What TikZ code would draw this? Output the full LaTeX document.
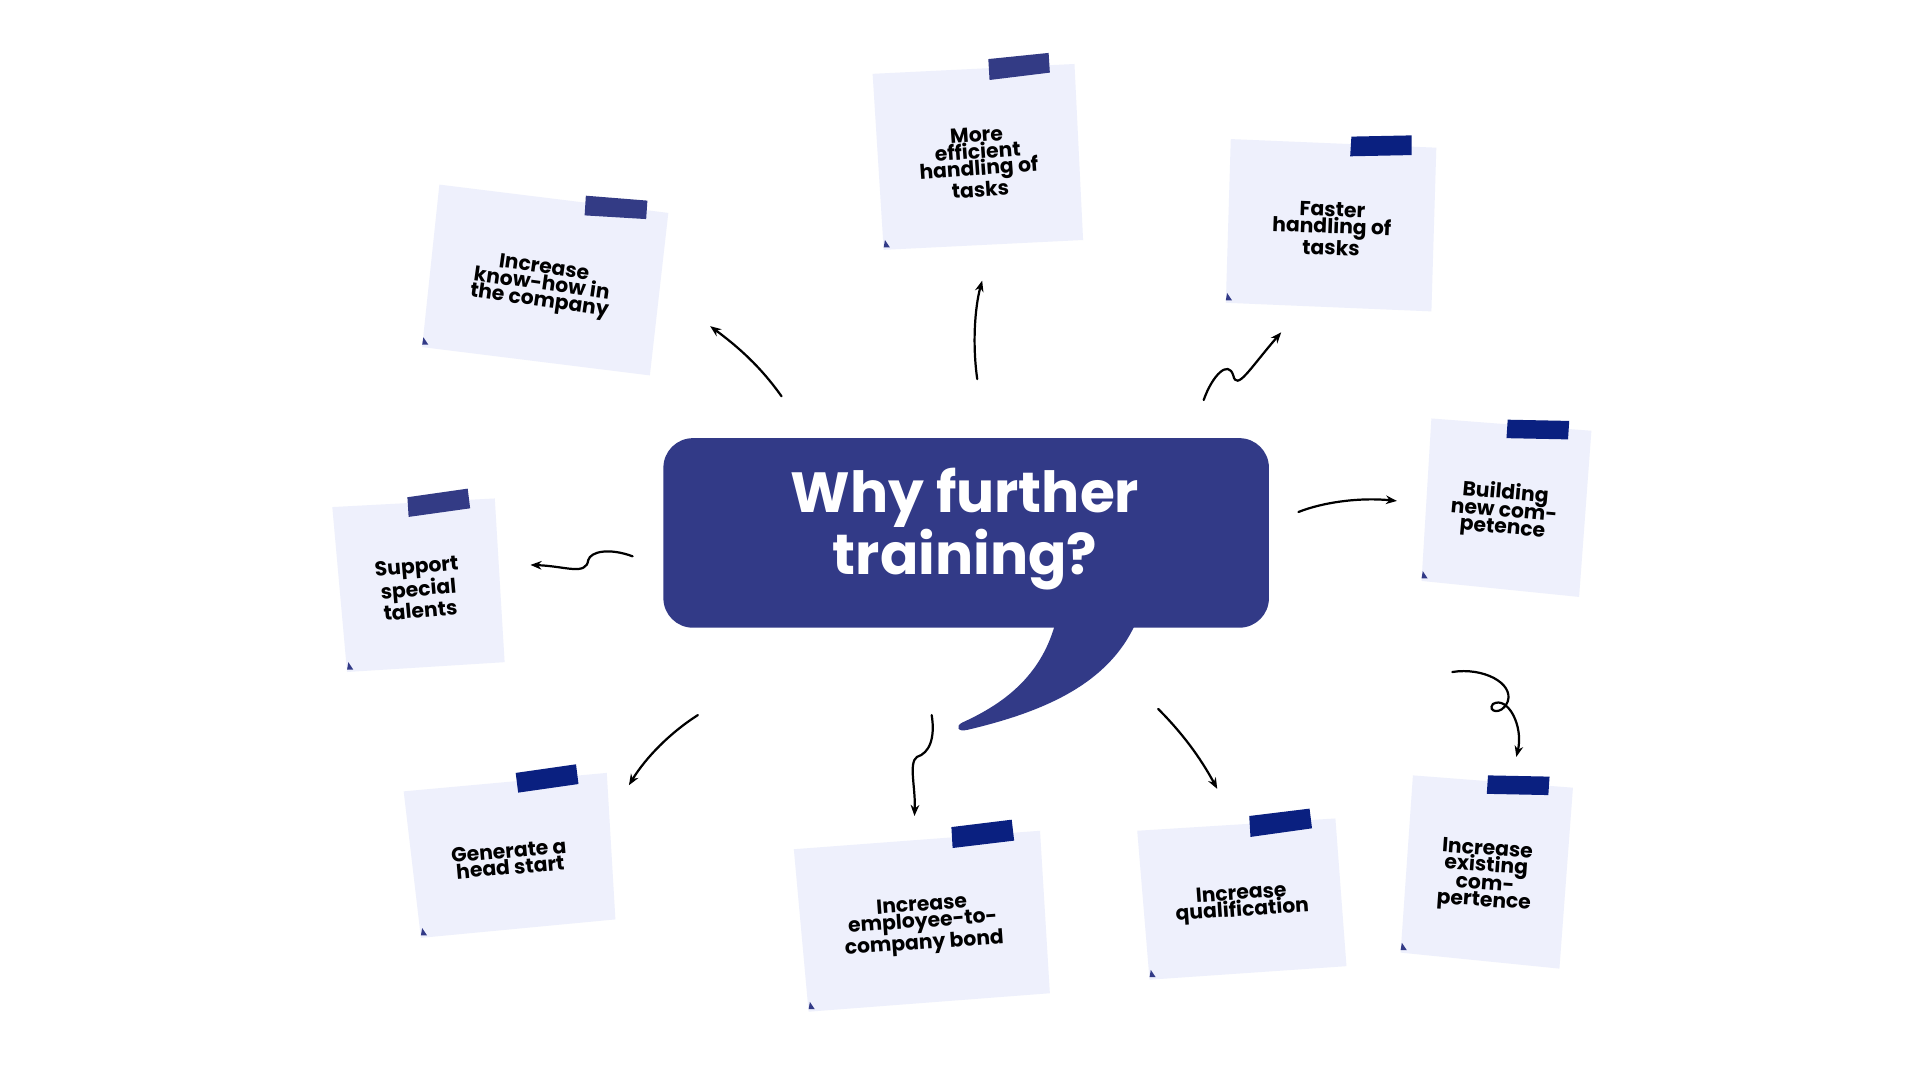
\documentclass[tikz,border=0pt]{standalone}
\usepackage{fontspec}
\setmainfont{Poppins}
\usetikzlibrary{arrows.meta}
\definecolor{note}{HTML}{EEF0FC}
\definecolor{bub}{HTML}{323A87}
\definecolor{tapeA}{HTML}{333B85}
\definecolor{tapeB}{HTML}{0A2080}
\tikzset{
 notetext/.style={font=\fontsize{16.5}{13.5}\selectfont\bfseries, align=center, text=black, inner sep=0pt},
 arr/.style={draw=black, line width=1.8pt, line cap=round, -{Stealth[length=9pt,width=7pt]}},
}
\newcommand{\note}[4]{%
  \fill[note] #1 -- #2 -- #3 -- #4 -- cycle;
  \fill[bub] #4 ++(0,-2) -- ++(5,0) -- ++(-4,-6) -- cycle;
}
\begin{document}
\begin{tikzpicture}[x=1pt,y=-1pt]
\useasboundingbox (0,0) rectangle (1560,877);
\fill[white] (0,0) rectangle (1560,877);
% notes
\note{(357,150)}{(543,173)}{(528,305)}{(343,282)}
\fill[tapeA] (476,159) -- (526,163) -- (525,178) -- (475,175) -- cycle;
\node[notetext, rotate=-8] (n1) at (440,232) {Increase\\know-how in\\the company};

\note{(709,60)}{(873,52)}{(880,195)}{(718,203)}
\fill[tapeA] (803,48) -- (852,43) -- (853,59) -- (804,65) -- cycle;
\node[notetext, rotate=4] (n2) at (795,132) {More\\efficient\\handling of\\tasks};

\note{(1000,113)}{(1167,120)}{(1163,253)}{(996,246)}
\fill[tapeB] (1098,111) -- (1147,110) -- (1147,126) -- (1097,127) -- cycle;
\node[notetext, rotate=-2] (n3) at (1082,186) {Faster\\handling of\\tasks};

\note{(1163,340)}{(1293,350)}{(1283,485)}{(1155,472)}
\fill[tapeB] (1225,341) -- (1275,342) -- (1274,357) -- (1224,356) -- cycle;
\node[notetext, rotate=-5] (n4) at (1222,415) {Building\\new com-\\petence};

\note{(270,412)}{(402,405)}{(410,538)}{(282,546)}
\fill[tapeA] (331,404) -- (380,397) -- (382,413) -- (332,420) -- cycle;
\node[notetext, rotate=5] (n5) at (340,478) {Support\\special\\talents};

\note{(328,643)}{(493,628)}{(500,747)}{(342,762)}
\fill[tapeB] (419,628) -- (468,621) -- (470,637) -- (421,644) -- cycle;
\node[notetext, rotate=5] (n6) at (414,698) {Generate a\\head start};

\note{(645,690)}{(845,675)}{(853,807)}{(657,822)}
\fill[tapeB] (773,672) -- (822,666) -- (824,683) -- (774,689) -- cycle;
\node[notetext, rotate=4] (n7) at (750,752) {Increase\\employee-to-\\company bond};

\note{(924,675)}{(1085,665)}{(1094,785)}{(934,796)}
\fill[tapeB] (1015,663) -- (1064,657) -- (1066,673) -- (1016,680) -- cycle;
\node[notetext, rotate=4] (n8) at (1009,734) {Increase\\qualification};

\note{(1148,630)}{(1278,640)}{(1267,787)}{(1138,774)}
\fill[tapeB] (1209,630) -- (1259,631) -- (1258,646) -- (1208,645) -- cycle;
\node[notetext, rotate=-4] (n9) at (1207,712) {Increase\\existing\\com-\\pertence};

% bubble
\fill[bub, rounded corners=24pt] (539,356) rectangle (1031,510);
\fill[bub] (857,508) .. controls (845,550) and (815,572) .. (782,587)
  .. controls (776,590) and (778,595) .. (786,593)
  .. controls (850,578) and (900,555) .. (922,508) -- cycle;
\node[font=\fontsize{46}{50}\selectfont\bfseries, text=white, align=center] (c) at (784,430) {Why further\\training?};

% arrow coordinates
\coordinate (a1) at (635,322); \coordinate (b1) at (577,265);
\coordinate (a2) at (794,308); \coordinate (b2) at (798,228);
\coordinate (a3) at (978,325); \coordinate (b3) at (1041,270);
\coordinate (a4) at (1055,416); \coordinate (b4) at (1135,407);
\coordinate (a5) at (514,452); \coordinate (b5) at (431,459);
\coordinate (a6) at (567,581); \coordinate (b6) at (511,638);
\coordinate (a7) at (757,581); \coordinate (b7) at (743,663);
\coordinate (a8) at (941,576); \coordinate (b8) at (989,641);
\coordinate (a9) at (1180,546); \coordinate (b9) at (1232,615);

\draw[arr] (a1) .. controls (618,298) and (600,282) .. (b1);
\draw[arr] (a2) .. controls (790,280) and (792,250) .. (b2);
\draw[arr] (a3) .. controls (985,305) and (998,292) .. (1002,305)
  .. controls (1005,318) and (1015,300) .. (b3);
\draw[arr] (a4) .. controls (1075,408) and (1105,404) .. (b4);
\draw[arr] (a5) .. controls (495,445) and (480,448) .. (478,455)
  .. controls (476,468) and (460,460) .. (b5);
\draw[arr] (a6) .. controls (545,595) and (525,615) .. (b6);
\draw[arr] (a7) .. controls (760,600) and (755,612) .. (745,615)
  .. controls (738,620) and (744,640) .. (b7);
\draw[arr] (a8) .. controls (960,595) and (975,615) .. (b8);
\draw[arr] (a9) .. controls (1205,542) and (1230,555) .. (1225,570)
  .. controls (1220,582) and (1208,578) .. (1213,572)
  .. controls (1225,565) and (1238,590) .. (b9);
\end{tikzpicture}
\end{document}
